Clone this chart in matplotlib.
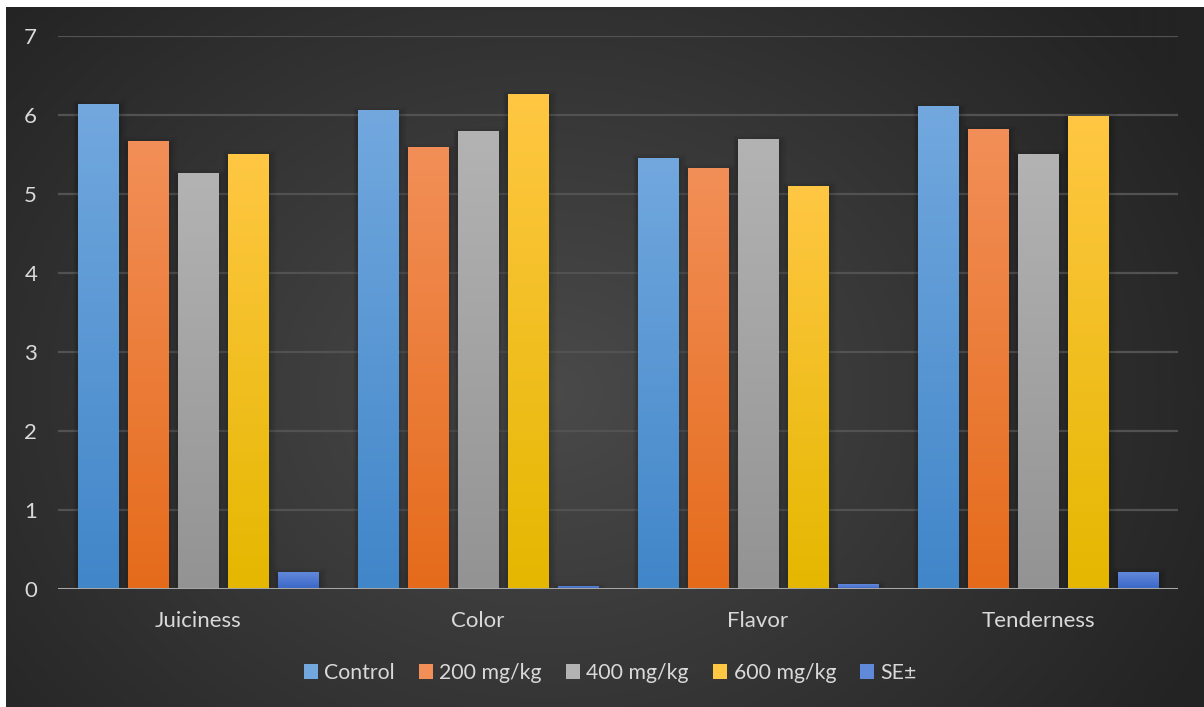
import numpy as np
import matplotlib
matplotlib.use("Agg")
import matplotlib.pyplot as plt
from matplotlib.colors import LinearSegmentedColormap, to_rgb
from matplotlib.patches import Rectangle

plt.rcParams['font.family'] = ['Lato', 'DejaVu Sans']

categories = ["Juiciness", "Color", "Flavor", "Tenderness"]
series_names = ["Control", "200 mg/kg", "400 mg/kg", "600 mg/kg", "SE\u00b1"]
control = [6.14, 6.06, 5.46, 6.11]
mg200 = [5.67, 5.59, 5.33, 5.82]
mg400 = [5.27, 5.80, 5.70, 5.51]
mg600 = [5.51, 6.27, 5.10, 5.99]
se = [0.215, 0.04, 0.06, 0.215]
yticks = [0, 1, 2, 3, 4, 5, 6, 7]

series = [control, mg200, mg400, mg600, se]
# (top colour, bottom colour) for each series' vertical gradient
grads = [("#72a8de", "#4186c9"),
         ("#f28f58", "#e56b1b"),
         ("#b3b3b3", "#939393"),
         ("#ffc743", "#e5b700"),
         ("#6189da", "#3a66c6")]

W, H = 1204, 707
fig = plt.figure(figsize=(W / 100, H / 100), dpi=100, facecolor="white")

# dark panel with a soft radial glow
bg = fig.add_axes([6 / W, 0, 1 - 6 / W, (H - 7) / H])
bg.set_axis_off()
ny, nx = 350, 600
yy, xx = np.mgrid[0:ny, 0:nx]
cx, cy = nx * 0.45, ny * 0.55
r = np.sqrt(((xx - cx) / (nx * 0.62)) ** 2 + ((yy - cy) / (ny * 0.85)) ** 2)
r = np.clip(r, 0, 1)
c_in = np.array(to_rgb("#4a4a4a"))
c_out = np.array(to_rgb("#232323"))
img = c_in[None, None, :] * (1 - r[..., None]) + c_out[None, None, :] * r[..., None]
bg.imshow(img, aspect="auto", extent=[0, 1, 0, 1], interpolation="bilinear")
bg.set_xlim(0, 1)
bg.set_ylim(0, 1)

# plotting axes
x0, x1 = 58 / W, 1178 / W
y0, y1 = (H - 589) / H, (H - 36) / H
ax = fig.add_axes([x0, y0, x1 - x0, y1 - y0])
ax.patch.set_alpha(0)
ax.set_xlim(-0.5, 3.5)
ax.set_ylim(0, 7)

for t in yticks[1:]:
    ax.axhline(t, color="#525252", lw=1.6, zorder=0.5)

n = len(series)
step = 50 / 280
width = 41 / 280
xc = np.arange(len(categories))

for i, (vals, (ctop, cbot)) in enumerate(zip(series, grads)):
    cmap = LinearSegmentedColormap.from_list(f"g{i}", [cbot, ctop])
    xs = xc + (i - (n - 1) / 2) * step
    bars = ax.bar(xs, vals, width=width, color=ctop, zorder=2, linewidth=0)
    for b in bars:
        bx, bw, bh = b.get_x(), b.get_width(), b.get_height()
        # soft shadow
        for k, a in enumerate([0.06, 0.05, 0.04, 0.03]):
            pad = (k + 1) * 0.006
            ax.add_patch(Rectangle((bx - pad * 0.6, -0.02), bw + pad * 1.8, bh + pad * 4 - 0.03,
                                   facecolor="black", alpha=a, lw=0, zorder=1.5))
        b.set_facecolor("none")
        grad = np.linspace(0, 1, 256).reshape(-1, 1)
        im = ax.imshow(grad, cmap=cmap, aspect="auto", origin="lower",
                       extent=[bx, bx + bw, 0, bh], zorder=2.5, interpolation="bilinear")
        im.set_clip_path(b)

ax.set_xlim(-0.5, 3.5)
ax.set_ylim(0, 7)
ax.axhline(0, color="#a6a6a6", lw=2.2, zorder=3)

for s in ax.spines.values():
    s.set_visible(False)
ax.set_yticks(yticks)
ax.set_xticks(xc)
ax.set_xticklabels(categories)
ax.tick_params(axis="both", length=0, colors="#d9d9d9", labelsize=16)
ax.tick_params(axis="y", pad=15)
ax.tick_params(axis="x", pad=16)

handles = [Rectangle((0, 0), 1, 1, facecolor=g[0]) for g in grads]
leg = fig.legend(handles, series_names, loc="center", bbox_to_anchor=(0.507, (H - 673) / H),
                 ncol=5, frameon=False, fontsize=15.3, labelcolor="#d9d9d9",
                 handlelength=0.65, handleheight=0.65, handletextpad=0.3, columnspacing=1.15)

fig.savefig("out.png", dpi=100, facecolor="white")
